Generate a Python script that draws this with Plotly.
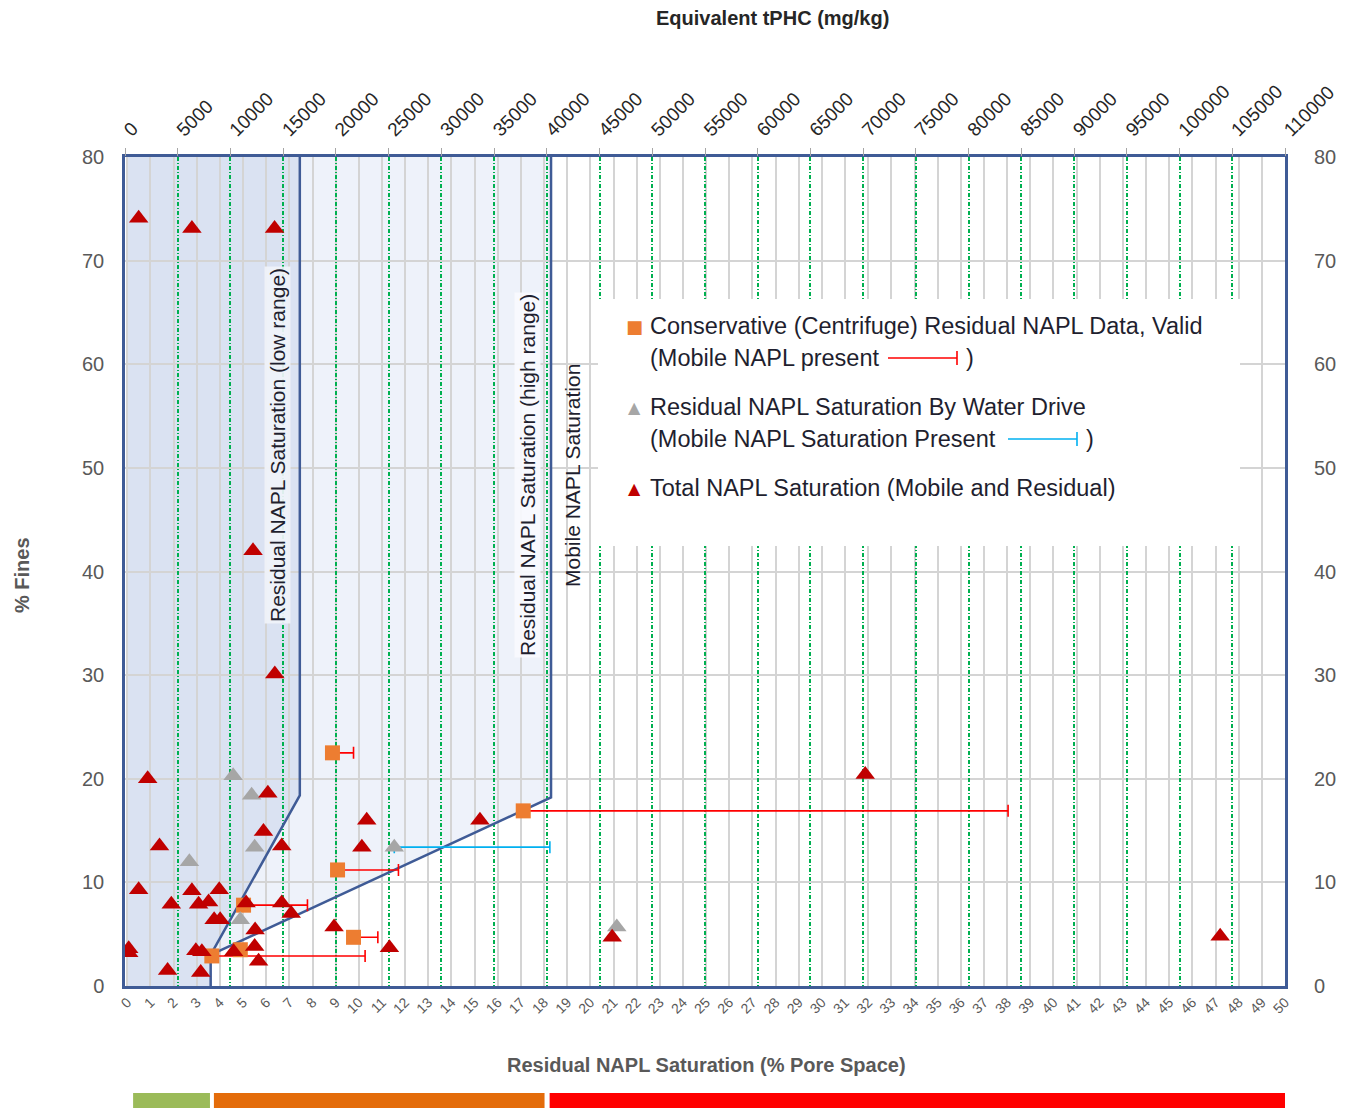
import plotly.graph_objects as go

# ---------------- DATA ----------------
# Total NAPL saturation (mobile + residual) - red triangles
total_x = [0.49, 2.79, 6.36, 5.43, 6.37, 0.88, 31.87, 6.07, 1.39, 5.88, 6.67, 10.34, 10.13,
           15.23, 0.49, 2.79, 3.97, 1.90, 3.08, 3.51, 5.13, 6.67, 7.08, 3.75, 4.01, 5.52,
           8.93, 0.06, 0.06, 2.96, 3.22, 4.59, 5.50, 5.67, 11.32, 1.74, 3.17, 20.94, 47.2]
total_y = [74.1, 73.1, 73.1, 42.0, 30.1, 20.0, 20.4, 18.6, 13.5, 14.9, 13.5, 16.0, 13.4,
           16.0, 9.3, 9.2, 9.3, 7.9, 7.9, 8.1, 8.0, 8.0, 7.0, 6.4, 6.4, 5.4,
           5.7, 3.6, 3.2, 3.4, 3.3, 3.3, 3.8, 2.4, 3.7, 1.5, 1.3, 4.7, 4.8]

# Residual NAPL saturation by water drive - gray triangles
water_x = [4.57, 5.37, 5.50, 2.68, 4.88, 21.14]
water_y = [20.3, 18.4, 13.4, 12.0, 6.4, 5.7]
# water drive point with mobile NAPL present (blue error bar)
water_mob_x = [11.53]
water_mob_y = [13.4]
water_mob_err = [6.72]

# Conservative (centrifuge) residual NAPL data - orange squares, mobile NAPL (red error bars)
cons_x = [8.86, 9.08, 9.77, 17.10, 5.02, 3.65, 4.88]
cons_y = [22.5, 11.2, 4.7, 16.9, 7.8, 2.9, 3.5]
cons_err = [0.91, 2.63, 1.05, 20.94, 2.76, 6.62, 0.22]

# Boundary lines (low range / high range residual saturation)
low_line_x = [3.6, 3.6, 7.45, 7.45]
low_line_y = [0, 3.0, 18.4, 80]
high_line_x = [3.6, 18.3, 18.3]
high_line_y = [3.0, 18.2, 80]

# Shaded zones
low_zone_x = [0, 0, 7.45, 7.45, 3.6, 3.6]
low_zone_y = [0, 80, 80, 18.4, 3.0, 0]
high_zone_x = [7.45, 18.3, 18.3, 3.6, 7.45]
high_zone_y = [80, 80, 18.2, 3.0, 18.4]

# Colour band below the x axis (x ranges)
band_x0 = [0.25, 3.74, 18.24]
band_x1 = [3.57, 18.02, 50.1]
band_colors = ["#9bbb59", "#e46c0a", "#ff0000"]

# Axis ticks
sat_ticks = list(range(0, 51))
tphc_ticks = list(range(0, 110001, 5000))
fines_ticks = list(range(0, 81, 10))

# ---------------- STYLE ----------------
W, H = 1345, 1109
OFF = 8  # page body margin
L, R, T, B = 125, 1285, 157, 986   # plot area as seen on screen
FONT = "Liberation Sans, Arial, sans-serif"
NAVY = "#3f5b96"
GRAYTXT = "#595959"
DARK = "#1f1f2f"


def px(xp):
    return (xp - L) / (R - L)


def py(yp):
    return (B - yp) / (B - T)


def path(xs, ys):
    return "M " + " L ".join(f"{a},{b}" for a, b in zip(xs, ys)) + " Z"


fig = go.Figure()

# boundary lines
fig.add_trace(go.Scatter(x=low_line_x, y=low_line_y, mode="lines",
                         line=dict(color=NAVY, width=2.5), hoverinfo="skip", showlegend=False))
fig.add_trace(go.Scatter(x=high_line_x, y=high_line_y, mode="lines",
                         line=dict(color=NAVY, width=2.5), hoverinfo="skip", showlegend=False))

# data
fig.add_trace(go.Scatter(x=cons_x, y=cons_y, mode="markers",
                         marker=dict(symbol="square", size=15, color="#ed7d31"),
                         error_x=dict(type="data", symmetric=False, array=cons_err,
                                      arrayminus=[0] * len(cons_err), color="#ff0000",
                                      thickness=1.6, width=6),
                         showlegend=False))
fig.add_trace(go.Scatter(x=water_x, y=water_y, mode="markers",
                         marker=dict(symbol="triangle-up", size=17, color="#a6a6a6"),
                         showlegend=False))
fig.add_trace(go.Scatter(x=water_mob_x, y=water_mob_y, mode="markers",
                         marker=dict(symbol="triangle-up", size=17, color="#a6a6a6"),
                         error_x=dict(type="data", symmetric=False, array=water_mob_err,
                                      arrayminus=[0], color="#00b0f0", thickness=1.6, width=6),
                         showlegend=False))
fig.add_trace(go.Scatter(x=total_x, y=total_y, mode="markers",
                         marker=dict(symbol="triangle-up", size=17, color="#c00000"),
                         showlegend=False))
# invisible trace to activate top / right axes
fig.add_trace(go.Scatter(x=[0, 110000], y=[0, 80], xaxis="x2", yaxis="y2", mode="markers",
                         marker=dict(opacity=0), hoverinfo="skip", showlegend=False))

shapes = [
    dict(type="path", path=path(low_zone_x, low_zone_y), xref="x", yref="y",
         fillcolor="#dae2f2", line=dict(width=0), layer="below"),
    dict(type="path", path=path(high_zone_x, high_zone_y), xref="x", yref="y",
         fillcolor="#eef2fa", line=dict(width=0), layer="below"),
    # legend box (covers the grid)
    dict(type="rect", xref="paper", yref="paper", x0=px(598), x1=px(1240), y0=py(546), y1=py(299),
         fillcolor="white", line=dict(width=0), layer="above"),
    # legend error-bar glyphs
    dict(type="line", xref="paper", yref="paper", x0=px(888), x1=px(957), y0=py(358), y1=py(358),
         line=dict(color="#ff0000", width=1.6), layer="above"),
    dict(type="line", xref="paper", yref="paper", x0=px(957), x1=px(957), y0=py(351), y1=py(365),
         line=dict(color="#ff0000", width=1.6), layer="above"),
    dict(type="line", xref="paper", yref="paper", x0=px(1008), x1=px(1077), y0=py(439), y1=py(439),
         line=dict(color="#00b0f0", width=1.6), layer="above"),
    dict(type="line", xref="paper", yref="paper", x0=px(1077), x1=px(1077), y0=py(432), y1=py(446),
         line=dict(color="#00b0f0", width=1.6), layer="above"),
]
for x0, x1, c in zip(band_x0, band_x1, band_colors):
    shapes.append(dict(type="rect", xref="x", yref="paper", x0=x0, x1=x1,
                       y0=py(1108), y1=py(1093), fillcolor=c, line=dict(width=0)))

ann = []


def add_text(xp, yp, text, size, color, angle=0, xa="center", ya="middle", bg=None, family=FONT):
    d = dict(x=px(xp), y=py(yp), xref="paper", yref="paper", text=text, textangle=angle,
             showarrow=False, xanchor=xa, yanchor=ya, font=dict(family=family, size=size, color=color))
    if bg:
        d["bgcolor"] = bg
    ann.append(d)


# region labels
add_text(278, 445, "Residual NAPL Saturation (low range)", 21, DARK, -90, bg="rgba(240,243,250,0.92)")
add_text(527, 475, "Residual NAPL Saturation (high range)", 21, DARK, -90, bg="rgba(248,250,254,0.92)")
add_text(572, 476, "Mobile NAPL Saturation", 21, DARK, -90)

# legend texts
LS = 23.5
leg_rows = [
    (326, "Conservative (Centrifuge) Residual NAPL Data, Valid"),
    (358, "(Mobile NAPL present"),
    (407, "Residual NAPL Saturation By Water Drive"),
    (439, "(Mobile NAPL Saturation Present"),
    (488, "Total NAPL Saturation (Mobile and Residual)"),
]
for yp, t in leg_rows:
    add_text(648, yp, t, LS, DARK, xa="left")
add_text(964, 358, ")", LS, DARK, xa="left")
add_text(1084, 439, ")", LS, DARK, xa="left")
# legend symbols
for yp, sym, col, sz in [(326, "■", "#ed7d31", 18), (407, "▲", "#a6a6a6", 16), (488, "▲", "#c00000", 16)]:
    add_text(634, yp, sym, sz, col, family="DejaVu Sans")

# axis titles
add_text(772, 18, "<b>Equivalent tPHC (mg/kg)</b>", 20, "#262626")
add_text(706, 1065, "<b>Residual NAPL Saturation (% Pore Space)</b>", 20, GRAYTXT)
add_text(22, 575, "<b>% Fines</b>", 20, GRAYTXT, -90)

fig.update_layout(
    width=W, height=H,
    margin=dict(l=L - OFF, r=W - (R - OFF), t=T - OFF, b=H - (B - OFF), pad=0, autoexpand=False),
    paper_bgcolor="white", plot_bgcolor="white",
    showlegend=False,
    shapes=shapes, annotations=ann,
    font=dict(family=FONT, color=GRAYTXT),
    xaxis=dict(range=[-0.1, 50], tickvals=sat_ticks, ticktext=[str(v) for v in sat_ticks],
               tickangle=-45, tickfont=dict(size=14, color=GRAYTXT), ticks="", showgrid=True,
               gridcolor="#d4d4d4", gridwidth=1.5, zeroline=False, showline=True, linecolor=NAVY,
               linewidth=2.5, mirror=True, fixedrange=True),
    xaxis2=dict(range=[0, 110000], overlaying="x", side="top", tickvals=tphc_ticks,
                ticktext=[str(v) for v in tphc_ticks], tickangle=-45,
                tickfont=dict(size=19, color="#262626"), ticks="outside", ticklen=8,
                tickcolor="#a6a6a6", showgrid=True, gridcolor="#00b050", gridwidth=1.5,
                griddash="4px,2px,1px,2px", zeroline=False, showline=False),
    yaxis=dict(range=[0, 80], tickvals=fines_ticks, tickfont=dict(size=20, color=GRAYTXT),
               ticks="outside", ticklen=14, tickcolor="rgba(0,0,0,0)", showgrid=True,
               gridcolor="#d4d4d4", gridwidth=1.5, zeroline=False, showline=True, linecolor=NAVY,
               linewidth=2.5, mirror=True),
    yaxis2=dict(range=[0, 80], overlaying="y", side="right", tickvals=fines_ticks,
                tickfont=dict(size=20, color=GRAYTXT), ticks="outside", ticklen=24,
                tickcolor="rgba(0,0,0,0)", showgrid=False, zeroline=False, showline=False),
)

fig.write_html("out.html")
